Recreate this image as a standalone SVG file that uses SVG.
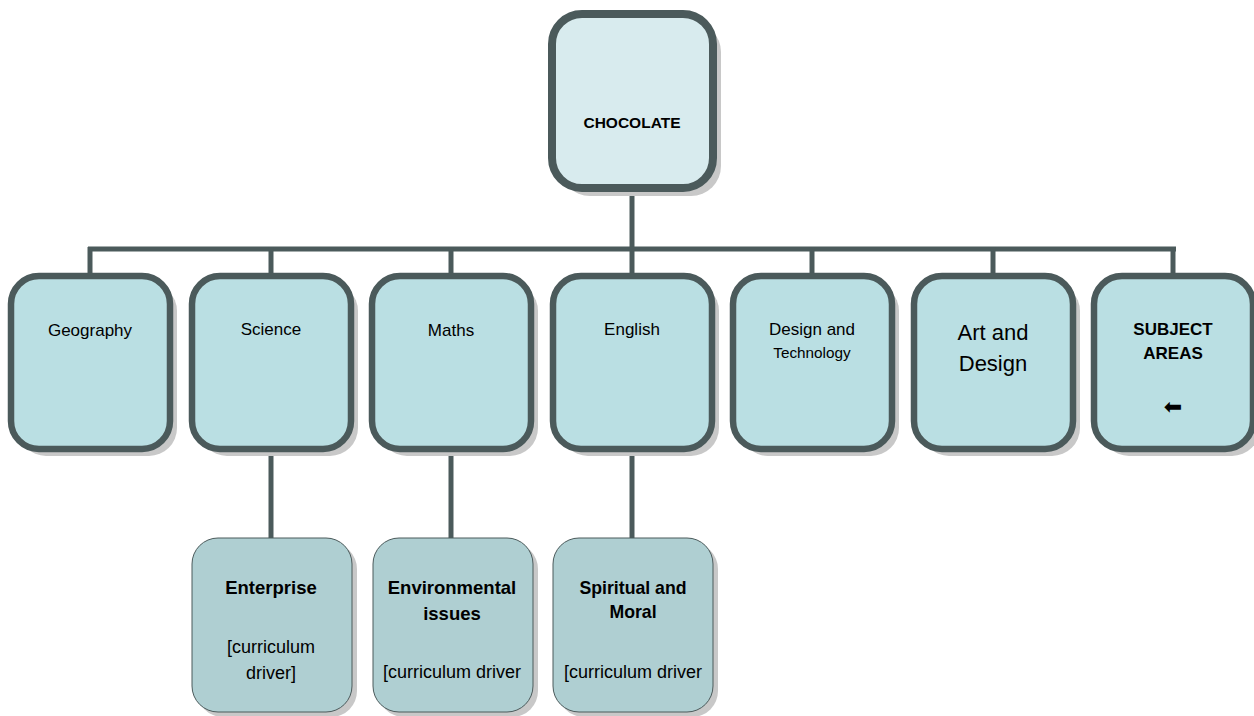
<svg xmlns="http://www.w3.org/2000/svg" width="1254" height="716" viewBox="0 0 1254 716">
<style>
.sh{fill:#c8c8c8;stroke:none}
.top{fill:#d8ebee;stroke:#4b5a5b;stroke-width:8}
.mid{fill:#badfe3;stroke:#4b5a5b;stroke-width:6.5}
.bot{fill:#afcfd2;stroke:#4b5a5b;stroke-width:1}
.c{stroke:#4b5a5b;stroke-width:5;fill:none}
text{font-family:"Liberation Sans",Arial,sans-serif;fill:#000;text-anchor:middle}
.b{font-weight:bold}
</style>
<g id="connectors">
<line class="c" x1="632" y1="190" x2="632" y2="276"/>
<line class="c" x1="88" y1="249" x2="1176" y2="249"/>
<line class="c" x1="90" y1="247" x2="90" y2="276"/>
<line class="c" x1="271" y1="247" x2="271" y2="276"/>
<line class="c" x1="451" y1="247" x2="451" y2="276"/>
<line class="c" x1="812" y1="247" x2="812" y2="276"/>
<line class="c" x1="993" y1="247" x2="993" y2="276"/>
<line class="c" x1="1173" y1="247" x2="1173" y2="276"/>
<line class="c" x1="271" y1="450" x2="271" y2="538"/>
<line class="c" x1="451" y1="450" x2="451" y2="538"/>
<line class="c" x1="632" y1="450" x2="632" y2="538"/>
</g>
<g id="chocolate">
<rect class="sh" x="560" y="22" width="161" height="174" rx="30"/>
<rect class="top" x="552" y="14" width="161" height="174" rx="30"/>
<text class="b" x="632" y="128" font-size="15.5">CHOCOLATE</text>
</g>
<g id="geography">
<rect class="sh" x="18" y="283" width="159" height="173" rx="28"/>
<rect class="mid" x="11" y="276" width="159" height="173" rx="28"/>
<text x="90" y="336" font-size="17">Geography</text>
</g>
<g id="science">
<rect class="sh" x="199" y="283" width="159" height="173" rx="28"/>
<rect class="mid" x="192" y="276" width="159" height="173" rx="28"/>
<text x="271" y="335" font-size="17">Science</text>
</g>
<g id="maths">
<rect class="sh" x="379" y="283" width="159" height="173" rx="28"/>
<rect class="mid" x="372" y="276" width="159" height="173" rx="28"/>
<text x="451" y="336" font-size="17">Maths</text>
</g>
<g id="english">
<rect class="sh" x="560" y="283" width="159" height="173" rx="28"/>
<rect class="mid" x="553" y="276" width="159" height="173" rx="28"/>
<text x="632" y="335" font-size="17">English</text>
</g>
<g id="design-technology">
<rect class="sh" x="740" y="283" width="159" height="173" rx="28"/>
<rect class="mid" x="733" y="276" width="159" height="173" rx="28"/>
<text x="812" y="335" font-size="17">Design and</text>
<text x="812" y="358" font-size="15.3">Technology</text>
</g>
<g id="art-design">
<rect class="sh" x="921" y="283" width="159" height="173" rx="28"/>
<rect class="mid" x="914" y="276" width="159" height="173" rx="28"/>
<text x="993" y="340" font-size="22">Art and</text>
<text x="993" y="371" font-size="22">Design</text>
</g>
<g id="subject-areas">
<rect class="sh" x="1101" y="283" width="159" height="173" rx="28"/>
<rect class="mid" x="1094" y="276" width="159" height="173" rx="28"/>
<text class="b" x="1173" y="335" font-size="17">SUBJECT</text>
<text class="b" x="1173" y="359" font-size="17">AREAS</text>
<text x="1173" y="414" font-size="22" style="font-family:'DejaVu Sans',sans-serif">⬅</text>
</g>
<g id="enterprise">
<rect class="sh" x="197" y="543" width="160" height="174" rx="26"/>
<rect class="bot" x="192" y="538" width="160" height="174" rx="26"/>
<text class="b" x="271" y="594" font-size="18.5">Enterprise</text>
<text x="271" y="653" font-size="18">[curriculum</text>
<text x="271" y="679" font-size="18">driver]</text>
</g>
<g id="environmental">
<rect class="sh" x="378" y="543" width="160" height="174" rx="26"/>
<rect class="bot" x="373" y="538" width="160" height="174" rx="26"/>
<text class="b" x="452" y="594" font-size="18.5">Environmental</text>
<text class="b" x="452" y="620" font-size="18.5">issues</text>
<text x="452" y="678" font-size="18">[curriculum driver</text>
</g>
<g id="spiritual">
<rect class="sh" x="558" y="543" width="160" height="174" rx="26"/>
<rect class="bot" x="553" y="538" width="160" height="174" rx="26"/>
<text class="b" x="633" y="594" font-size="17.7">Spiritual and</text>
<text class="b" x="633" y="618" font-size="17.7">Moral</text>
<text x="633" y="678" font-size="18">[curriculum driver</text>
</g>
</svg>
